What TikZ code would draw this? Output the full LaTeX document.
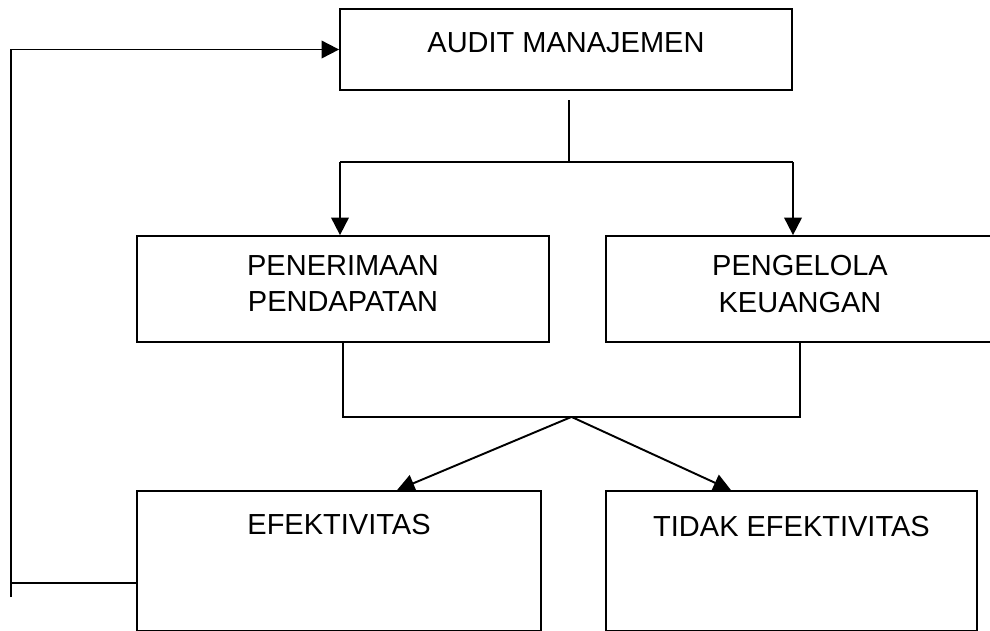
\documentclass[tikz,border=0pt]{standalone}
\usepackage{fontspec}
\setmainfont{Liberation Sans}
\usepackage{tikz}
\usetikzlibrary{calc, arrows.meta}

\begin{document}
\begin{tikzpicture}[
  box/.style = {draw, line width = 1pt, inner sep = 0pt},
  txt/.style = {anchor = north, inner sep = 0pt, align = center,
    font = \fontsize{16.5}{21}\selectfont},
  arr/.style = {-{Triangle[length = 10pt, width = 10pt]}},
  line width = 1.1pt]
  \useasboundingbox (0,0) rectangle (19.8,-12.6);

  \node[box, minimum width = 9.04cm, minimum height = 1.62cm,
  label = {[txt, yshift = -0.46cm]north:AUDIT MANAJEMEN}] (audit) at (11.32,-0.99) {};
  \node[box, minimum width = 8.24cm, minimum height = 2.12cm,
  label = {[txt, yshift = -0.38cm]north:{PENERIMAAN\\PENDAPATAN}}] (terima) at (6.86,-5.78) {};
  \node[box, minimum width = 7.76cm, minimum height = 2.12cm,
  label = {[txt, yshift = -0.38cm]north:{PENGELOLA\\KEUANGAN}}] (kelola) at (16.0,-5.78) {};
  \node[box, minimum width = 8.08cm, minimum height = 2.8cm,
  label = {[txt, yshift = -0.46cm]north:EFEKTIVITAS}] (efek) at (6.78,-11.22) {};
  \node[box, minimum width = 7.42cm, minimum height = 2.8cm,
  label = {[txt, yshift = -0.5cm]north:TIDAK EFEKTIVITAS}] (tidak) at (15.83,-11.22) {};

  % audit ke dua bagian
  \coordinate (stem) at (11.38,-2.0);
  \coordinate (barL) at (6.8,-3.24);
  \coordinate (barR) at (15.86,-3.24);
  \draw (stem) -- (stem |- barL);
  \draw[arr] (barL) -- (barL |- terima.north);
  \draw[arr] (barR) -- (barR |- kelola.north);
  \draw (barL) -- (barR);

  % gabungan ke hasil
  \coordinate (mid) at ($(terima.south)!.5!(kelola.south) + (0,-1.48)$);
  \draw (terima.south) -- (terima.south |- mid) -- (kelola.south |- mid)
  -- (kelola.south);
  \draw[arr] (mid) -- ([xshift = 1.16cm]efek.north);
  \draw[arr] (mid) -- ([xshift = -1.21cm]tidak.north);

  % umpan balik
  \coordinate (fbbot) at (0.22,-11.94);
  \coordinate (fbjoin) at (0.22,-11.66);
  \draw[arr] (fbbot) |- (audit.west);
  \draw (fbjoin -| efek.west) -- (fbjoin);
\end{tikzpicture}
\end{document}
